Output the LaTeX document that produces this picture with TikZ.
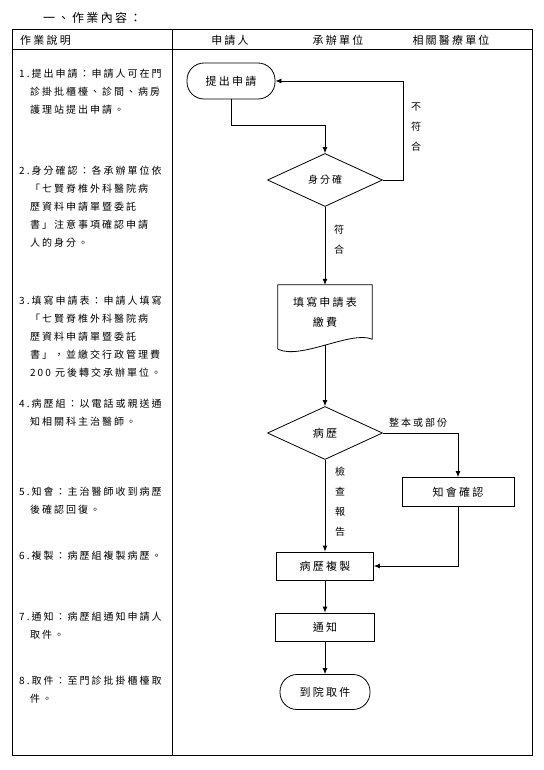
\documentclass[tikz,border=0pt]{standalone}
\usepackage{fontspec}
\setmainfont{Noto Sans CJK TC}[LetterSpace=20]
\usetikzlibrary{shapes.geometric,arrows.meta}

\begin{document}
\begin{tikzpicture}[x=1pt,y=-1pt,>={Latex[length=6pt,width=5pt]},
  font=\fontsize{11}{13}\selectfont,
  every node/.style={inner sep=0pt},
  terminal/.style={draw,line width=.8pt,rounded corners=17pt,minimum width=88pt,minimum height=36pt},
  decision/.style={draw,line width=.8pt,diamond,minimum width=115pt,minimum height=53pt},
  process/.style={draw,line width=.8pt,minimum width=97pt,minimum height=28pt},
  docbox/.style={minimum width=94pt,minimum height=54pt,align=center,font=\fontsize{11}{20}\selectfont},
  steptext/.style={anchor=north west,align=left,font=\fontsize{10}{18}\selectfont},
  flowlabel/.style={align=center,font=\fontsize{10}{20}\selectfont},
  flow/.style={->,line width=.8pt}]
  \useasboundingbox (0,0) rectangle (543,770);
  % table
  \draw[line width=1pt] (12,30) rectangle (532,755);
  \draw[line width=.8pt] (12,49) -- (532,49);
  \draw[line width=.8pt] (172,30) -- (172,755);
  \node[anchor=west,font=\fontsize{12}{14}\selectfont] (title) at (43,18) {一、作業內容：};
  \node[anchor=west] (hdesc) at (20,40) {作業說明};
  \node (happ) at (230,40) {申請人};
  \node (hunit) at (338,40) {承辦單位};
  \node (hmed) at (451,40) {相關醫療單位};

  % left column
  \node[steptext] (s1) at (19,69) {1.提出申請：申請人可在門\\\hspace*{11pt}診掛批櫃檯、診間、病房\\\hspace*{11pt}護理站提出申請。};
  \node[steptext] (s2) at (19,166) {2.身分確認：各承辦單位依\\\hspace*{11pt}「七賢脊椎外科醫院病\\\hspace*{11pt}歷資料申請單暨委託\\\hspace*{11pt}書」注意事項確認申請\\\hspace*{11pt}人的身分。};
  \node[steptext] (s3) at (19,296) {3.填寫申請表：申請人填寫\\\hspace*{11pt}「七賢脊椎外科醫院病\\\hspace*{11pt}歷資料申請單暨委託\\\hspace*{11pt}書」，並繳交行政管理費\\\hspace*{11pt}200 元後轉交承辦單位。};
  \node[steptext] (s4) at (19,399) {4.病歷組：以電話或親送通\\\hspace*{11pt}知相關科主治醫師。};
  \node[steptext] (s5) at (19,487) {5.知會：主治醫師收到病歷\\\hspace*{11pt}後確認回復。};
  \node[steptext] (s6) at (19,551) {6.複製：病歷組複製病歷。};
  \node[steptext] (s7) at (19,612) {7.通知：病歷組通知申請人\\\hspace*{11pt}取件。};
  \node[steptext] (s8) at (19,676) {8.取件：至門診批掛櫃檯取\\\hspace*{11pt}件。};

  % flow
  \node[terminal] (apply) at (231,81) {提出申請};
  \node[decision,font=\fontsize{10}{12}\selectfont] (idchk) at (325,180) {身分確};
  \node[docbox] (fill) at (325,312) {填寫申請表\\繳費};
  \draw[line width=.8pt] ([yshift=-10pt]fill.south west) -- (fill.north west) -- (fill.north east) -- (fill.south east)
    .. controls ([xshift=-21pt,yshift=9pt]fill.south east) and ([xshift=23pt,yshift=-21pt]fill.south west) .. ([yshift=-10pt]fill.south west);
  \node[decision] (record) at (325,433) {病歷};
  \node[process,minimum width=112pt,minimum height=29pt] (notify) at (458,492) {知會確認};
  \node[process] (copy) at (325,566) {病歷複製};
  \node[process,minimum width=99pt] (inform) at (325,627) {通知};
  \node[terminal,minimum width=90pt,minimum height=35pt] (pickup) at (325,692) {到院取件};

  \draw[flow] (apply.south) -- ++(0,26) -| (idchk.north);
  \draw[flow] (idchk.east) -- ++(20,0) |- (apply.east);
  \draw[flow] (idchk.south) -- (fill.north);
  \draw[flow] ([yshift=-6pt]fill.south) -- (record.north);
  \draw[flow] (record.east) -| (notify.north);
  \draw[flow] (record.south) -- (copy.north);
  \draw[flow] (notify.south) |- (copy.east);
  \draw[flow] (copy.south) -- (inform.north);
  \draw[flow] (inform.south) -- (pickup.north);

  \node[flowlabel] (nomatch) at (416,127) {不\\符\\合};
  \node[flowlabel] (match) at (339,240) {符\\合};
  \node[flowlabel] (part) at (418,423) {整本或部份};
  \node[flowlabel] (check) at (340,502) {檢\\查\\報\\告};
\end{tikzpicture}
\end{document}
